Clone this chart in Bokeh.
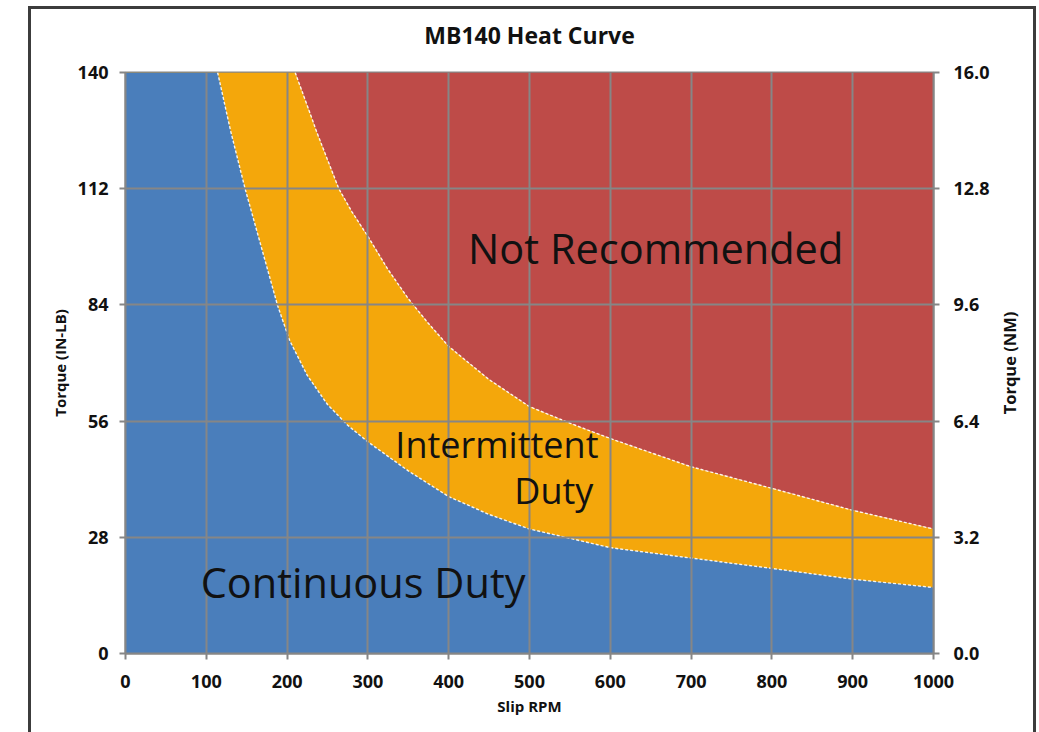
import math
from bokeh.plotting import figure
from bokeh.layouts import column, row
from bokeh.models import Range1d, LinearAxis, FixedTicker, NumeralTickFormatter, Label
from bokeh.core.properties import value
from bokeh.embed import file_html
from bokeh.resources import INLINE

# ---- data ----
cont_rpm = [0, 114, 130, 148, 168, 188, 203, 225, 250, 275, 300, 350, 400, 450, 500, 600, 700, 800, 900, 1000]
cont_torque = [140, 140, 126, 112, 98, 84, 75.5, 67, 60, 55, 51, 44, 37.8, 33.5, 30, 25.5, 23, 20.5, 17.9, 15.9]

interm_rpm = [0, 210, 225, 237, 250, 264, 280, 300, 325, 350, 375, 400, 450, 500, 550, 600, 700, 800, 900, 1000]
interm_torque = [140, 140, 132, 125.5, 119, 112, 106.5, 100.5, 92.5, 85.5, 79.5, 74, 66, 59.5, 55.5, 51.8, 45, 39.8, 34.5, 30]

rpm_ticks = [0, 100, 200, 300, 400, 500, 600, 700, 800, 900, 1000]
inlb_ticks = [0, 28, 56, 84, 112, 140]
nm_ticks = [0.0, 3.2, 6.4, 9.6, 12.8, 16.0]

title_text = "MB140 Heat Curve"
x_title = "Slip RPM"
y_title = "Torque (IN-LB)"
y2_title = "Torque (NM)"
zone_labels = ["Not Recommended", "Intermittent", "Duty", "Continuous Duty"]

BLUE = "#4a7ebb"
AMBER = "#f4a70b"
RED = "#be4b48"
GRID = "#868686"
INK = "#111111"
FONT = "Open Sans"

# geometry
FW, FH = 808, 581
LEFT, RIGHT, TOP, BOTTOM = 94, 62, 16, 79
TITLE_H = 47
RLAB_W = 38
TOTAL_W = LEFT + FW + RIGHT + RLAB_W

# ---- main chart ----
p = figure(frame_width=FW, frame_height=FH,
           x_range=Range1d(0, 1000), y_range=Range1d(0, 140),
           output_backend="svg", toolbar_location=None,
           min_border_left=LEFT, min_border_right=RIGHT,
           min_border_top=TOP, min_border_bottom=BOTTOM)

# fills
p.varea(x=interm_rpm, y1=interm_torque, y2=140, fill_color=RED)
p.varea(x=interm_rpm, y1=0, y2=interm_torque, fill_color=AMBER)
p.varea(x=cont_rpm, y1=0, y2=cont_torque, fill_color=BLUE)

# dashed boundary lines
p.line(x=cont_rpm[1:], y=cont_torque[1:], line_color="white", line_width=1.4,
       line_dash="3 2", line_alpha=0.9)
p.line(x=interm_rpm[1:], y=interm_torque[1:], line_color="white", line_width=1.4,
       line_dash="3 2", line_alpha=0.9)

# axes
p.extra_y_ranges = {"nm": Range1d(0, 16)}
ax2 = LinearAxis(y_range_name="nm", ticker=FixedTicker(ticks=nm_ticks),
                 formatter=NumeralTickFormatter(format="0.0"))
p.add_layout(ax2, "right")

p.xaxis.ticker = FixedTicker(ticks=rpm_ticks)
p.yaxis[0].ticker = FixedTicker(ticks=inlb_ticks)
p.xaxis.axis_label = x_title
p.yaxis[0].axis_label = y_title

for ax in [p.xaxis[0], p.yaxis[0], ax2]:
    ax.axis_line_color = GRID
    ax.axis_line_width = 2
    ax.major_tick_line_color = GRID
    ax.major_tick_line_width = 2
    ax.major_tick_out = 6
    ax.major_tick_in = 0
    ax.minor_tick_line_color = None
    ax.major_label_text_font = FONT
    ax.major_label_text_font_size = "18px"
    ax.major_label_text_font_style = "bold"
    ax.major_label_text_color = INK
    ax.major_label_standoff = 11
    ax.axis_label_text_font = FONT
    ax.axis_label_text_font_size = "15px"
    ax.axis_label_text_font_style = "bold"
    ax.axis_label_text_color = INK
    ax.axis_label_standoff = 5

p.xaxis.major_label_standoff = 15
p.xaxis.axis_label_standoff = 5
ax2.major_label_standoff = 14

p.grid.grid_line_color = GRID
p.grid.grid_line_width = 2
p.grid.level = "guide"
p.outline_line_color = GRID
p.outline_line_width = 2

# zone labels
p.add_layout(Label(x=424, y=97.6, text=zone_labels[0], text_font=FONT, text_font_size="41.5px",
                   text_color=INK, text_align="left", text_baseline="alphabetic"))
p.add_layout(Label(x=334, y=50.4, text=zone_labels[1], text_font=FONT, text_font_size="36px",
                   text_color=INK, text_align="left", text_baseline="alphabetic"))
p.add_layout(Label(x=579, y=39.2, text=zone_labels[2], text_font=FONT, text_font_size="36px",
                   text_color=INK, text_align="right", text_baseline="alphabetic"))
p.add_layout(Label(x=93, y=17.2, text=zone_labels[3], text_font=FONT, text_font_size="41.5px",
                   text_color=INK, text_align="left", text_baseline="alphabetic"))

# ---- title strip ----
t = figure(width=TOTAL_W, height=TITLE_H, x_range=Range1d(0, TOTAL_W), y_range=Range1d(TITLE_H, 0),
           x_axis_type=None, y_axis_type=None, output_backend="svg", toolbar_location=None,
           min_border=0)
t.outline_line_color = None
t.grid.visible = False
t.text(x=[LEFT + FW / 2], y=[25.5], text=[title_text], text_font=value(FONT),
       text_font_size="23px", text_font_style="bold", text_color=INK,
       text_align="center", text_baseline="middle")

# ---- right axis title strip ----
r = figure(frame_width=RLAB_W, frame_height=FH, x_range=Range1d(0, RLAB_W), y_range=Range1d(0, 140),
           x_axis_type=None, y_axis_type=None, output_backend="svg", toolbar_location=None,
           min_border_left=0, min_border_right=0, min_border_top=TOP, min_border_bottom=BOTTOM)
r.outline_line_color = None
r.grid.visible = False
r.text(x=[14], y=[70], text=[y2_title], angle=math.pi / 2, text_font=value(FONT),
       text_font_size="16.5px", text_font_style="bold", text_color=INK,
       text_align="center", text_baseline="middle")

layout = column(t, row(p, r, spacing=0), spacing=0)
layout.styles = {"margin-left": "28px", "margin-top": "6px",
                 "border-left": "3px solid #3c3c3c",
                 "border-top": "3px solid #3c3c3c",
                 "border-right": "3px solid #3c3c3c"}

open("out.html", "w").write(file_html(layout, INLINE))
